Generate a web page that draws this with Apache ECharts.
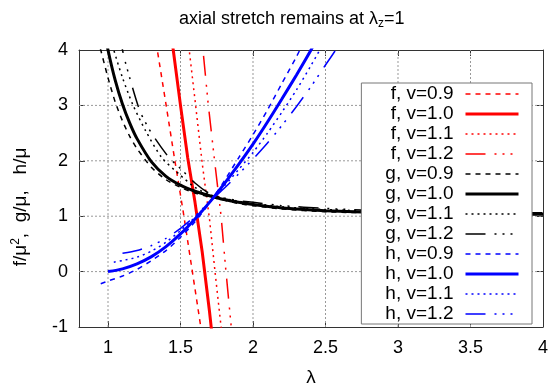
<!DOCTYPE html>
<html>
<head>
<meta charset="utf-8">
<script src="https://cdn.jsdelivr.net/npm/echarts@6/dist/echarts.min.js"></script>
<style>
html, body { margin: 0; background: #fff; }
#chart { width: 551px; height: 392px; }
</style>
</head>
<body>
<div id="chart"></div>
<script>
// tick labels
const xTicks = [1, 1.5, 2, 2.5, 3, 3.5, 4];
const yTicks = [-1, 0, 1, 2, 3, 4];
const vValues = ['0.9', '1.0', '1.1', '1.2'];

// f curves, [lambda, f/mu^2]
const f09 = [[1.30, 4.67], [1.34, 4.0], [1.40, 3.02], [1.46, 2.02], [1.52, 1.06], [1.58, 0.03], [1.64, -1.0], [1.66, -1.35]];
const f10 = [[1.42, 4.6], [1.45, 4.0], [1.50, 3.0], [1.55, 2.05], [1.60, 1.25], [1.65, 0.35], [1.70, -0.72], [1.72, -1.2]];
const f11 = [[1.53, 4.6], [1.56, 4.0], [1.60, 3.1], [1.65, 1.95], [1.70, 0.95], [1.74, -0.05], [1.78, -1.0], [1.80, -1.45]];
const f12 = [[1.62, 4.9], [1.655, 4.0], [1.69, 3.05], [1.735, 2.0], [1.78, 1.0], [1.81, 0.1], [1.85, -1.0], [1.87, -1.45]];

// g curves, [lambda, g/mu]
const g09 = [[0.93, 4.2], [0.95, 4.0], [1.0, 3.5], [1.05, 3.06], [1.1, 2.72], [1.15, 2.44], [1.2, 2.22], [1.3, 1.88], [1.4, 1.66], [1.5, 1.52], [1.6, 1.42], [1.7, 1.35], [1.8, 1.29], [1.9, 1.23], [2.0, 1.19], [2.2, 1.13], [2.5, 1.08], [3.0, 1.05], [3.5, 1.035], [4.0, 1.03]];
const g10 = [[0.98, 4.3], [1.0, 4.0], [1.05, 3.45], [1.1, 3.02], [1.15, 2.68], [1.2, 2.4], [1.3, 1.98], [1.4, 1.72], [1.5, 1.56], [1.6, 1.45], [1.7, 1.37], [1.8, 1.3], [1.9, 1.25], [2.0, 1.21], [2.2, 1.15], [2.5, 1.1], [3.0, 1.06], [3.5, 1.045], [4.0, 1.035]];
const g11 = [[1.0, 4.4], [1.04, 4.0], [1.1, 3.5], [1.17, 3.02], [1.26, 2.54], [1.37, 2.06], [1.49, 1.76], [1.6, 1.52], [1.7, 1.39], [1.8, 1.32], [1.9, 1.27], [2.0, 1.23], [2.2, 1.17], [2.5, 1.12], [3.0, 1.08], [3.5, 1.06], [4.0, 1.05]];
const g12 = [[1.08, 4.3], [1.1, 4.0], [1.13, 3.68], [1.22, 2.9], [1.3, 2.5], [1.42, 2.06], [1.5, 1.86], [1.6, 1.6], [1.7, 1.41], [1.8, 1.33], [1.9, 1.28], [2.0, 1.25], [2.2, 1.19], [2.5, 1.14], [3.0, 1.09], [3.5, 1.07], [4.0, 1.06]];

// h curves, [lambda, h/mu]
const h09 = [[0.95, -0.22], [1.0, -0.17], [1.1, -0.08], [1.2, 0.04], [1.3, 0.2], [1.4, 0.38], [1.5, 0.62], [1.6, 0.9], [1.7, 1.24], [1.8, 1.63], [1.9, 2.05], [2.0, 2.47], [2.1, 2.92], [2.2, 3.4], [2.3, 3.88], [2.35, 4.15]];
const h10 = [[1.0, 0.0], [1.1, 0.05], [1.2, 0.14], [1.3, 0.27], [1.4, 0.45], [1.5, 0.68], [1.6, 0.95], [1.7, 1.25], [1.8, 1.58], [1.9, 1.93], [2.0, 2.3], [2.1, 2.7], [2.2, 3.12], [2.3, 3.55], [2.4, 4.0], [2.45, 4.25]];
const h11 = [[1.04, 0.17], [1.1, 0.2], [1.2, 0.26], [1.3, 0.37], [1.4, 0.53], [1.5, 0.74], [1.6, 0.98], [1.7, 1.25], [1.8, 1.54], [1.9, 1.84], [2.0, 2.15], [2.1, 2.5], [2.2, 2.88], [2.3, 3.28], [2.4, 3.72], [2.46, 4.0], [2.5, 4.2]];
const h12 = [[1.1, 0.33], [1.2, 0.38], [1.3, 0.47], [1.4, 0.6], [1.5, 0.78], [1.6, 1.0], [1.7, 1.26], [1.8, 1.5], [1.9, 1.76], [2.0, 2.03], [2.1, 2.32], [2.2, 2.64], [2.3, 2.98], [2.4, 3.34], [2.5, 3.73], [2.57, 4.0], [2.6, 4.15]];

const xMin = 0.8, xMax = 4, yMin = -1, yMax = 4;
const font = 'Liberation Sans, Arial, sans-serif';
const families = [
  { key: 'f', color: '#ff0000', data: [f09, f10, f11, f12], smooth: false },
  { key: 'g', color: '#000000', data: [g09, g10, g11, g12], smooth: 0.25 },
  { key: 'h', color: '#0000ff', data: [h09, h10, h11, h12], smooth: 0.25 }
];
const dashes = [[5, 5], 'solid', [2, 4], [20, 9, 2, 6, 2, 6, 2, 9]];
const widths = [1.5, 3, 1.5, 1.5];

const series = [];

// dotted grid, one thin line per inner tick, under the curves
const gridStyle = { color: '#999', width: 1, type: [2, 2] };
xTicks.filter(v => v < xMax).forEach(v => {
  series.push({ type: 'line', data: [[v, yMin], [v, yMax]], symbol: 'none', silent: true, z: 1, lineStyle: gridStyle });
});
yTicks.filter(v => v > yMin && v < yMax).forEach(v => {
  series.push({ type: 'line', data: [[xMin, v], [xMax, v]], symbol: 'none', silent: true, z: 1, lineStyle: gridStyle });
});

const legendData = [];
families.forEach(fam => {
  fam.data.forEach((d, i) => {
    const name = fam.key + ', v=' + vValues[i];
    const ls = { color: fam.color, width: widths[i], type: dashes[i] };
    series.push({
      name: name,
      type: 'line',
      data: d,
      symbol: 'none',
      smooth: fam.smooth,
      clip: true,
      z: 3,
      lineStyle: ls,
      itemStyle: { color: fam.color }
    });
    legendData.push({ name: name, lineStyle: ls, itemStyle: { opacity: 0 } });
  });
});

const frame = { show: true, onZero: false, lineStyle: { color: '#333', width: 1 } };
const tickIn = { inside: true, length: 6, lineStyle: { color: '#333' } };

const myChart = echarts.init(document.getElementById('chart'));
const option = {
  animation: false,
  backgroundColor: '#fff',
  title: {
    text: 'axial stretch remains at λ{sub|z}=1',
    left: 174,
    top: 3,
    textStyle: {
      fontSize: 18, fontWeight: 'normal', color: '#000', fontFamily: font,
      rich: { sub: { fontSize: 12, color: '#000', fontFamily: font, padding: [10, 0, 0, 0] } }
    }
  },
  grid: { left: 79, right: 7, top: 50, bottom: 64 },
  legend: {
    orient: 'vertical',
    right: 19,
    top: 83,
    align: 'right',
    padding: [1, 12, 0, 24],
    itemGap: 0,
    itemWidth: 53,
    itemHeight: 10,
    backgroundColor: '#fff',
    borderColor: '#777',
    borderWidth: 1,
    textStyle: { fontSize: 19, lineHeight: 20, color: '#000', fontFamily: font, padding: [0, 7, 0, 0] },
    data: legendData
  },
  xAxis: [{
    type: 'value', min: xMin, max: xMax,
    name: 'λ', nameLocation: 'middle', nameGap: 41,
    nameTextStyle: { fontSize: 19, color: '#000', fontFamily: font },
    axisLine: frame,
    axisTick: tickIn,
    axisLabel: { customValues: xTicks, fontSize: 18, color: '#000', fontFamily: font, margin: 12 },
    splitLine: { show: false }
  }, {
    type: 'value', min: xMin, max: xMax, position: 'top',
    axisLine: frame,
    axisTick: tickIn,
    axisLabel: { show: false },
    splitLine: { show: false }
  }],
  yAxis: [{
    type: 'value', min: yMin, max: yMax, interval: 1,
    axisLine: frame,
    axisTick: tickIn,
    axisLabel: { fontSize: 18, color: '#000', fontFamily: font, margin: 11 },
    splitLine: { show: false }
  }, {
    type: 'value', min: yMin, max: yMax, interval: 1, position: 'right',
    axisLine: frame,
    axisTick: tickIn,
    axisLabel: { show: false },
    splitLine: { show: false }
  }],
  graphic: [{
    type: 'text',
    x: 21,
    y: 207,
    rotation: Math.PI / 2,
    style: {
      text: 'f/μ{sup|2},  g/μ,   h/μ',
      font: '19px ' + font,
      fill: '#000',
      align: 'center',
      verticalAlign: 'middle',
      rich: { sup: { fontSize: 12, fill: '#000', fontFamily: font, padding: [0, 0, 10, 0] } }
    }
  }],
  series: series
};
myChart.setOption(option);
</script>
</body>
</html>
